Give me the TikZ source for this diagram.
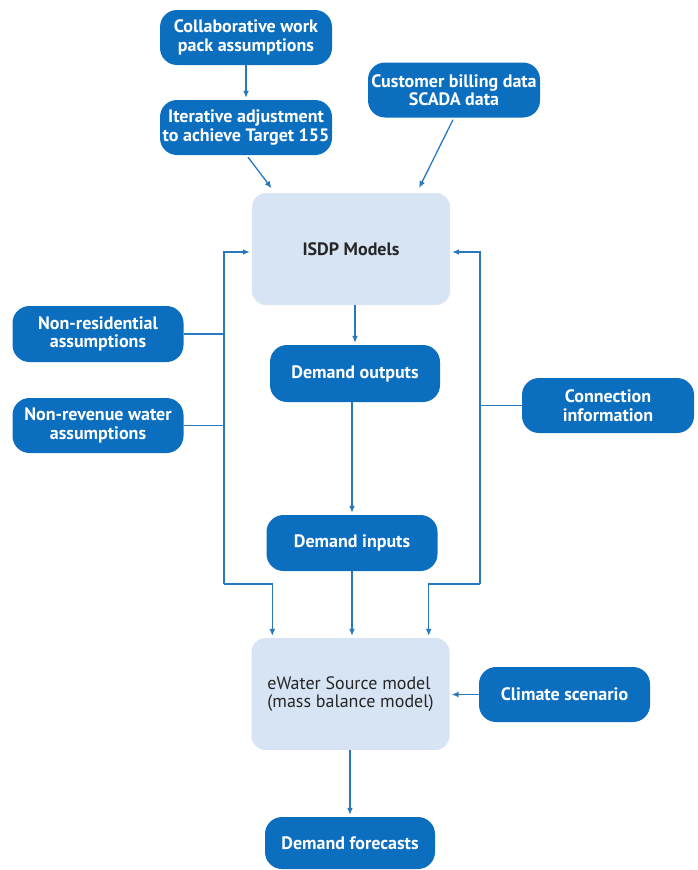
\documentclass[tikz,border=0pt]{standalone}
\usepackage{fontspec}
\setmainfont{PT Sans}
\usetikzlibrary{arrows.meta,calc}
\definecolor{darkb}{RGB}{12,110,190}
\definecolor{lightb}{RGB}{214,228,244}
\definecolor{lineb}{RGB}{40,120,190}
\begin{document}
\begin{tikzpicture}[x=1pt,y=-1pt,
  darknode/.style={fill=darkb,rounded corners=17pt,text=white,align=center,
    font=\fontsize{18}{18.5}\selectfont\bfseries,inner sep=1pt,minimum width=172pt,minimum height=55pt},
  lightnode/.style={fill=lightb,rounded corners=14pt,text=black!85,
    font=\fontsize{18}{18.5}\selectfont,inner sep=2pt,minimum width=198pt,minimum height=112pt},
  conn/.style={draw=lineb,line width=1.3pt},
  arr/.style={conn,-{Latex[length=7pt,width=6pt]},shorten >=2pt}]
\useasboundingbox (0,0) rectangle (697,870);
\node[darknode] (collab) at (246,37.5) {Collaborative work\\pack assumptions};
\node[darknode] (iter) at (246,127.5) {Iterative adjustment\\to achieve Target 155};
\node[darknode] (cust) at (454,90) {Customer billing data\\SCADA data};
\node[lightnode,font=\fontsize{18}{18.5}\selectfont\bfseries] (isdp) at (351,249) {ISDP Models};
\node[darknode,minimum width=171pt,minimum height=56pt] (nonres) at (98,334) {Non-residential\\assumptions};
\node[darknode,minimum width=171pt] (nonrev) at (98,425.5) {Non-revenue water\\assumptions};
\node[darknode] (conninfo) at (608,405.5) {Connection\\information};
\node[darknode,minimum width=170pt,minimum height=57pt] (dout) at (355,373.5) {Demand outputs};
\node[darknode,minimum width=171pt,minimum height=56pt] (din) at (352,543) {Demand inputs};
\node[lightnode,align=left] (ewater) at (350.5,694) {eWater Source model\\(mass balance model)};
\node[darknode,minimum width=171pt] (climate) at (564.5,694.5) {Climate scenario};
\node[darknode,minimum width=170pt,minimum height=52pt] (dfore) at (350,843) {Demand forecasts};
\coordinate (lbot) at (224,584);
\coordinate (rbot) at (480,584);
% top
\draw[arr] (collab.south) -- (iter.north);
\draw[arr] ($(iter.south)+(2,2)$) -- ($(isdp.north west)+(21,-3)$);
\draw[arr] ($(cust.south)+(-1,2)$) -- ($(isdp.north east)+(-32,-3)$);
% center chain
\draw[arr] (isdp.south -| dout.north) -- (dout.north);
\draw[arr] (dout.south -| din.north) -- (din.north);
\draw[arr] (din.south) -- (din.south |- ewater.north);
\draw[arr] (ewater.south -| dfore.north) -- (dfore.north);
\draw[arr] (climate.west) -- (climate.west -| ewater.east);
% left bus
\draw[conn] (nonres.east) -- (nonres.east -| lbot);
\draw[conn] (nonrev.east) -- (nonrev.east -| lbot);
\draw[arr] (lbot) |- ($(isdp.west)+(0,3)$);
\draw[arr] (lbot) -| ($(ewater.north west)+(21,0)$);
% right bus
\draw[conn] (conninfo.west) -- (conninfo.west -| rbot);
\draw[arr] (rbot) |- ($(isdp.east)+(0,3)$);
\draw[arr] (rbot) -| ($(ewater.north east)+(-21,0)$);
\end{tikzpicture}
\end{document}
